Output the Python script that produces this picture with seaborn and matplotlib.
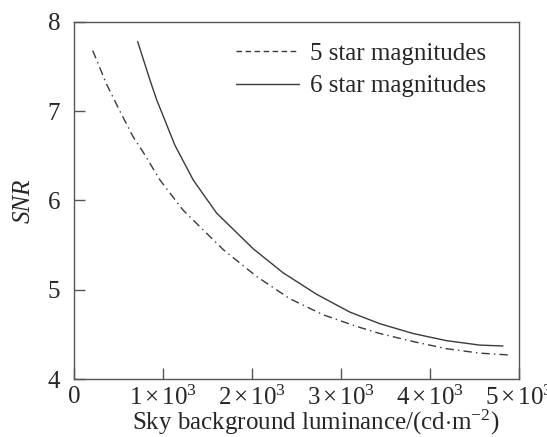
import numpy as np
import pandas as pd
import seaborn as sns
import matplotlib
matplotlib.use("Agg")
import matplotlib.pyplot as plt
from matplotlib.lines import Line2D

# values
lum_5 = [210, 367, 516, 666, 778, 965, 1227, 1676, 2050, 2424, 2798, 3172, 3434, 3808, 4183, 4557, 4874]
snr_5 = [7.68, 7.30, 7.00, 6.71, 6.54, 6.23, 5.89, 5.45, 5.15, 4.90, 4.72, 4.59, 4.51, 4.42, 4.34, 4.29, 4.27]
lum_6 = [715, 853, 928, 1133, 1339, 1601, 2012, 2349, 2724, 3098, 3434, 3808, 4183, 4557, 4818]
snr_6 = [7.78, 7.35, 7.13, 6.62, 6.23, 5.86, 5.46, 5.19, 4.95, 4.75, 4.62, 4.51, 4.43, 4.38, 4.37]
series_names = ["5 star magnitudes", "6 star magnitudes"]
x_ticks = [0, 1000, 2000, 3000, 4000, 5000]
x_tick_labels = ["0", r"$1\,{\times}\,10^{3}$", r"$2\,{\times}\,10^{3}$", r"$3\,{\times}\,10^{3}$",
                 r"$4\,{\times}\,10^{3}$", r"$5\,{\times}\,10^{3}$"]
y_ticks = [4, 5, 6, 7, 8]

sns.set_style("ticks")
plt.rcParams["font.family"] = ["Liberation Serif", "DejaVu Serif"]
plt.rcParams["mathtext.fontset"] = "custom"
plt.rcParams["mathtext.rm"] = "Liberation Serif"
plt.rcParams["mathtext.it"] = "Liberation Serif:italic"

df5 = pd.DataFrame({"lum": lum_5, "snr": snr_5})
df6 = pd.DataFrame({"lum": lum_6, "snr": snr_6})

fig = plt.figure(figsize=(5.47, 4.37), dpi=100)
ax = fig.add_axes([0.1353, 0.1327, 0.8137, 0.817])

line_col = "#3a3a3a"
sns.lineplot(data=df5, x="lum", y="snr", ax=ax, color=line_col, lw=1.0,
             linestyle=(0, (6, 3, 1, 3)), sort=False)
sns.lineplot(data=df6, x="lum", y="snr", ax=ax, color=line_col, lw=1.0, sort=False)

ax.set_xlim(0, 5000)
ax.set_ylim(4, 8)
ax.set_xticks(x_ticks)
ax.set_xticklabels(x_tick_labels)
ax.set_yticks(y_ticks)

spine_col = "#555555"
for s in ax.spines.values():
    s.set_color(spine_col)
    s.set_linewidth(1.0)
ax.tick_params(direction="in", length=8, width=1, color=spine_col, labelsize=18)
ax.tick_params(axis="x", pad=5)
ax.tick_params(axis="y", pad=10)

ax.set_xlabel(r"Sky background luminance/(cd$\cdot$m$^{-2}$)", fontsize=18,
              labelpad=-1.5, x=0.542)
ax.set_ylabel("SNR", fontsize=18, style="italic", labelpad=9)

handles = [Line2D([], [], color=line_col, lw=1.0, linestyle=(0, (4, 2.5))),
           Line2D([], [], color=line_col, lw=1.0)]
ax.legend(handles, series_names, loc="upper left", bbox_to_anchor=(0.364, 0.942),
          frameon=False, fontsize=18, handlelength=2.52, handletextpad=0.44,
          labelspacing=0.39, borderpad=0, borderaxespad=0)

fig.savefig("out.png", dpi=100)
